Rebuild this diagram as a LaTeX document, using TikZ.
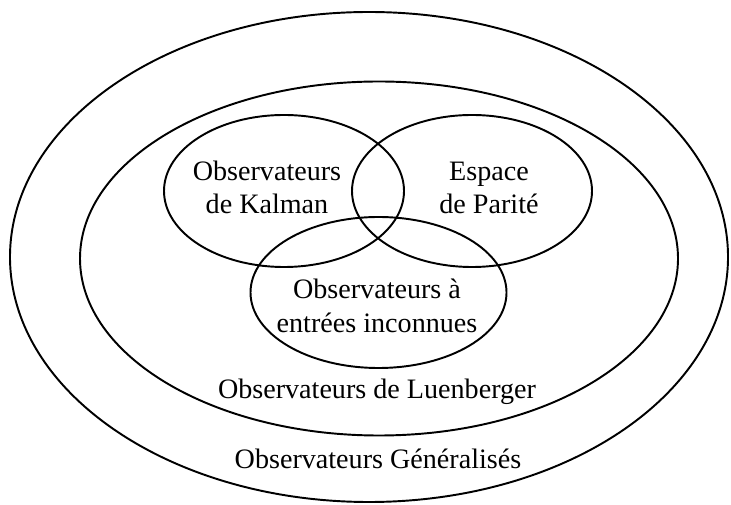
\documentclass[tikz,border=0pt]{standalone}
\usepackage{fontspec}
\setmainfont{Liberation Serif}
\tikzset{ens/.style={line width=1.1pt,black},
  lbl/.style={font=\fontsize{16}{19}\selectfont,align=center,inner sep=0pt}}

\begin{document}
\begin{tikzpicture}
\useasboundingbox (0,0) rectangle (14.62,10.08);
\coordinate (G) at (7.38,4.94); \coordinate (L) at (7.58,4.91);
\coordinate (K) at (5.68,6.26); \coordinate (P) at (9.44,6.26); \coordinate (U) at (7.57,4.23);
\draw[ens] (G) ellipse [x radius=7.18,y radius=4.9];
\draw[ens] (L) ellipse [x radius=5.98,y radius=3.54];
\draw[ens] (K) ellipse [x radius=2.4,y radius=1.52];
\draw[ens] (P) ellipse [x radius=2.4,y radius=1.52];
\draw[ens] (U) ellipse [x radius=2.56,y radius=1.51];
\node[lbl] (kalman) at (5.34,6.33) {Observateurs\\de Kalman};
\node[lbl] (parite) at (9.78,6.32) {Espace\\de Parité};
\node[lbl] (inconnues) at (7.54,3.96) {Observateurs à\\entrées inconnues};
\node[lbl] (luenberger) at (7.54,2.24) {Observateurs de Luenberger};
\node[lbl] (generalises) at (7.56,0.9) {Observateurs Généralisés};
\end{tikzpicture}
\end{document}
